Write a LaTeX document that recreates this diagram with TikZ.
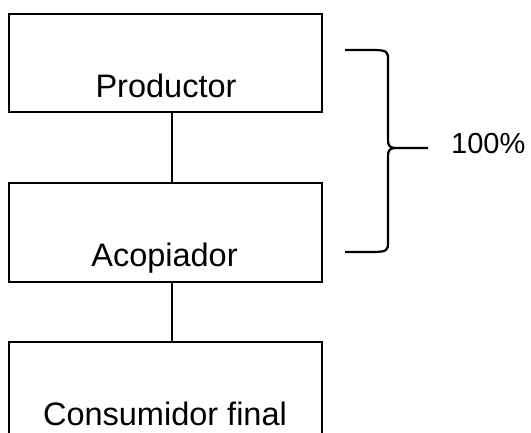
\documentclass[tikz,border=0pt]{standalone}
\usepackage{fontspec}
\setmainfont{Liberation Sans}
\begin{document}
\begin{tikzpicture}[x=1pt,y=-1pt,
  boxst/.style={draw=black,line width=1.8pt,rectangle,minimum width=313pt,inner sep=0pt},
  lbl/.style={font=\fontsize{32.5}{38}\selectfont,anchor=base,inner sep=0pt},
  ln/.style={line width=1.8pt}]
\useasboundingbox (0,0) rectangle (531,433);
\clip (0,0) rectangle (531,433);
\node[boxst,minimum height=98pt] (b1) at (165.5,63) {};
\node[boxst,minimum height=99pt] (b2) at (165.5,232.5) {};
\node[boxst,minimum height=140pt] (b3) at (165.5,412) {};
\node[lbl] (t1) at (166,98) {Productor};
\node[lbl] (t2) at (164.5,267) {Acopiador};
\node[lbl] (t3) at (165,425) {Consumidor final};
\node[lbl,anchor=base west,font=\fontsize{29}{34}\selectfont] (pct) at (451,154) {100\%};
\draw[ln] ([xshift=6.5pt]b1.south) -- ([xshift=6.5pt]b2.north);
\draw[ln] ([xshift=6.5pt]b2.south) -- ([xshift=6.5pt]b3.north);
\coordinate (bt) at (345,50);
\coordinate (bb) at (345,252);
\coordinate (tip) at (428,148);
\draw[line width=2.2pt,line join=round]
  (bt) -- (372,50) .. controls (388,50) and (388,52) .. (388,60)
  -- (388,140) .. controls (388,146) and (390,148) .. (396,148) -- (tip);
\draw[line width=2.2pt,line join=round]
  (bb) -- (372,252) .. controls (388,252) and (388,250) .. (388,242)
  -- (388,156) .. controls (388,150) and (390,148) .. (396,148);
\end{tikzpicture}
\end{document}
